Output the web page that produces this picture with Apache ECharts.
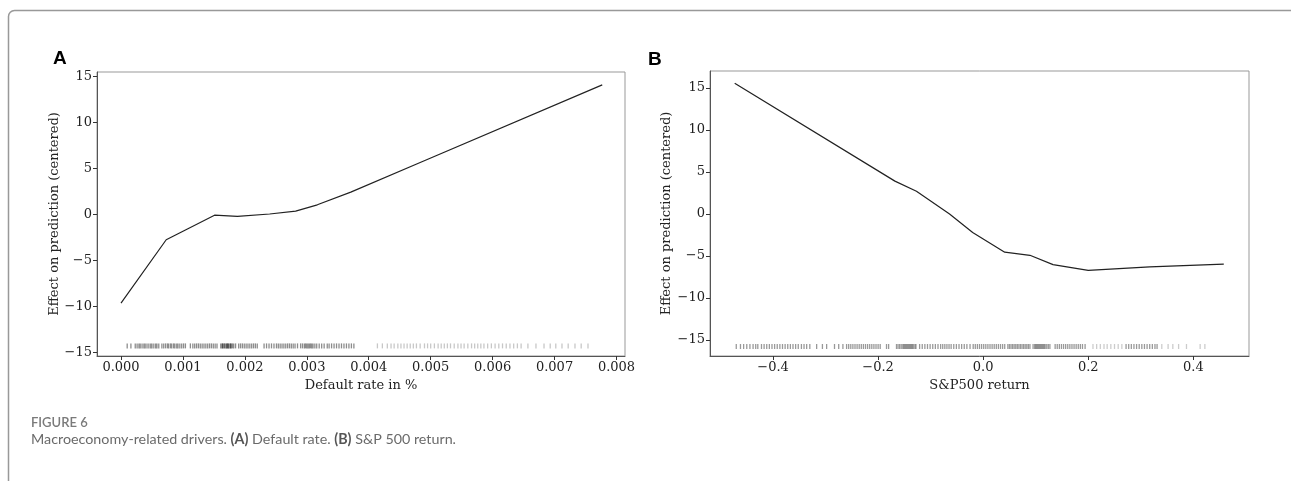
<!DOCTYPE html>
<html>
<head>
<meta charset="utf-8">
<style>
html,body{margin:0;padding:0;background:#fff;}
#chart{width:1291px;height:481px;}
</style>
<script src="https://cdn.jsdelivr.net/npm/echarts@6/dist/echarts.min.js"></script>
</head>
<body>
<div id="chart"></div>
<script>
// ---- Panel A: Default rate ----
const xA = [0.0000, 0.00073, 0.00151, 0.00188, 0.00240, 0.00282, 0.00317, 0.00371, 0.00484, 0.00777];
const yA = [-9.65, -2.75, -0.08, -0.20, 0.05, 0.36, 1.05, 2.43, 5.68, 14.10];
const rugA = [0.00010,0.00016,
 0.00023,0.00026,0.00029,0.00031,0.00034,0.00037,0.00039,0.00042,0.00045,0.00048,0.00050,0.00053,0.00056,0.00058,0.00061,
 0.00066,0.00069,0.00072,0.00075,0.00077,0.00080,0.00082,0.00085,0.00087,0.00090,0.00092,0.00095,0.00098,0.00101,0.00104,
 0.00112,0.00116,0.00119,0.00122,0.00125,0.00128,0.00131,0.00134,0.00137,0.00140,0.00143,0.00146,0.00149,0.00152,0.00155,
 0.00161,0.00163,0.00164,0.00165,0.00167,0.00168,0.00170,0.00171,0.00172,0.00173,0.00174,0.00176,0.00177,0.00178,0.00180,0.00182,0.00185,
 0.00190,0.00193,0.00196,0.00199,0.00202,0.00205,0.00208,0.00211,0.00214,0.00217,0.00220,
 0.00231,0.00235,0.00239,0.00243,0.00247,0.00251,0.00254,0.00257,0.00260,0.00263,0.00266,0.00269,0.00272,0.00275,0.00278,0.00281,0.00285,
 0.00290,0.00293,0.00296,0.00298,0.00300,0.00302,0.00304,0.00306,0.00308,0.00310,0.00313,0.00316,0.00320,0.00324,0.00328,0.00333,
 0.00336,0.00340,0.00344,0.00348,0.00352,0.00356,0.00360,0.00364,0.00368,0.00372,0.00376];
const rugAsparse = [0.00414,0.00422,0.00430,0.00436,0.00441,0.00447,0.00452,0.00457,0.00462,0.00467,0.00472,0.00477,0.00483,0.00490,0.00495,0.00500,0.00506,0.00512,0.00517,0.00522,0.00527,0.00532,0.00538,0.00544,0.00549,0.00554,0.00560,0.00566,0.00571,0.00576,0.00581,0.00586,0.00592,0.00598,0.00604,0.00610,0.00616,0.00622,0.00628,0.00634,0.00640,0.00646,
 0.00657,0.00670,0.00683,0.00693,0.00702,0.00712,0.00722,0.00733,0.00743,0.00754];
const rugYA = -14.3;
const ticksXA = [0, 0.001, 0.002, 0.003, 0.004, 0.005, 0.006, 0.007, 0.008];
const ticksYA = [-15, -10, -5, 0, 5, 10, 15];

// ---- Panel B: S&P500 return ----
const xB = [-0.473, -0.168, -0.127, -0.064, -0.020, 0.041, 0.089, 0.133, 0.200, 0.317, 0.458];
const yB = [15.54, 3.90, 2.70, 0.00, -2.20, -4.55, -4.92, -6.03, -6.71, -6.30, -5.96];
const rugB = [-0.470,-0.462,-0.456,-0.450,-0.444,-0.438,-0.433,-0.429,
 -0.422,-0.417,-0.412,-0.407,-0.402,-0.397,-0.392,-0.387,-0.382,-0.377,-0.372,-0.367,-0.362,-0.357,-0.352,-0.346,-0.341,-0.336,-0.330,
 -0.317,-0.306,-0.298,-0.283,-0.275,-0.267,
 -0.260,-0.256,-0.252,-0.248,-0.244,-0.240,-0.236,-0.232,-0.228,-0.224,-0.220,-0.216,-0.212,-0.208,-0.204,-0.200,-0.196,
 -0.184,-0.180,
 -0.165,-0.162,-0.159,-0.156,-0.153,-0.151,-0.149,-0.147,-0.145,-0.143,-0.141,-0.139,-0.137,-0.135,-0.133,-0.130,-0.128,
 -0.121,-0.116,-0.111,-0.106,-0.101,-0.096,-0.091,-0.086,-0.081,-0.077,-0.073,-0.069,-0.065,-0.061,-0.056,-0.051,-0.046,-0.041,-0.036,-0.031,-0.025,
 -0.019,-0.015,-0.011,-0.007,-0.003,0.001,0.005,0.009,0.013,0.017,0.021,0.025,0.029,0.033,0.037,0.041,
 0.047,0.050,0.053,0.056,0.059,0.062,0.065,0.068,0.071,0.074,0.077,0.080,0.083,0.086,0.089,
 0.095,0.098,0.100,0.102,0.104,0.106,0.108,0.110,0.112,0.114,0.116,0.118,0.121,0.124,0.127,
 0.137,0.141,0.145,0.149,0.153,0.157,0.161,0.165,0.169,0.173,0.177,0.181,0.185,0.189,0.194,
 0.272,0.277,0.282,0.287,0.292,0.297,0.302,0.307,0.312,0.317,0.322,0.327,0.331];
const rugBsparse = [0.209,0.216,0.223,0.230,0.236,0.243,0.250,0.257,0.264,0.340,0.352,0.361,0.372,0.387,0.413,0.422];
const rugYB = -15.77;
const ticksXB = [-0.4, -0.2, 0.0, 0.2, 0.4];
const ticksYB = [-15, -10, -5, 0, 5, 10, 15];

const SERIF = 'DejaVu Serif';
const minus = v => (v < 0 ? '\u2212' + Math.abs(v) : String(v));
const pair = (xs, ys) => xs.map((x, i) => [x, ys[i]]);
const rug = (xs, y) => xs.map(x => [x, y]);

function xAxisCfg(idx, min, max, ticks, fmt, name) {
  return {
    type: 'value', gridIndex: idx, min: min, max: max,
    name: name, nameLocation: 'middle', nameGap: 17,
    nameTextStyle: {fontFamily: SERIF, fontSize: 13, color: '#222'},
    axisLine: {show: true, onZero: false, lineStyle: {color: '#555', width: 1}},
    axisTick: {show: true, length: 4, lineStyle: {color: '#333'}, customValues: ticks},
    axisLabel: {show: true, customValues: ticks, formatter: fmt, margin: 5,
      fontFamily: SERIF, fontSize: 13, color: '#222'},
    splitLine: {show: false}
  };
}
function yAxisCfg(idx, min, max, ticks, gap) {
  return {
    type: 'value', gridIndex: idx, min: min, max: max,
    name: 'Effect on prediction (centered)', nameLocation: 'middle', nameGap: gap, nameRotate: 90,
    nameTextStyle: {fontFamily: SERIF, fontSize: 13, color: '#222'},
    axisLine: {show: true, onZero: false, lineStyle: {color: '#555', width: 1}},
    axisTick: {show: true, length: 4, lineStyle: {color: '#333'}, customValues: ticks},
    axisLabel: {show: true, customValues: ticks, formatter: v => minus(v), margin: 5,
      fontFamily: SERIF, fontSize: 13, color: '#222'},
    splitLine: {show: false}
  };
}

const chart = echarts.init(document.getElementById('chart'), null, {renderer: 'canvas'});
chart.setOption({
  backgroundColor: '#fff',
  animation: false,
  grid: [
    {left: 97, top: 72, width: 528, height: 284, show: true, borderColor: '#999', borderWidth: 1, backgroundColor: 'transparent'},
    {left: 710, top: 71, width: 539, height: 285, show: true, borderColor: '#999', borderWidth: 1, backgroundColor: 'transparent'}
  ],
  xAxis: [
    xAxisCfg(0, -0.0003875, 0.0081375, ticksXA, v => v.toFixed(3), 'Default rate in %'),
    xAxisCfg(1, -0.52, 0.506, ticksXB, v => (v < 0 ? '\u2212' + Math.abs(v).toFixed(1) : v.toFixed(1)), 'S&P500 return')
  ],
  yAxis: [
    yAxisCfg(0, -15.4, 15.5, ticksYA, 36),
    yAxisCfg(1, -16.9, 17.0, ticksYB, 37)
  ],
  series: [
    {type: 'line', xAxisIndex: 0, yAxisIndex: 0, data: pair(xA, yA), showSymbol: false, symbol: 'none',
      lineStyle: {color: '#222', width: 1.2}, silent: true},
    {type: 'scatter', xAxisIndex: 0, yAxisIndex: 0, data: rug(rugA, rugYA), symbol: 'rect', symbolSize: [1.3, 5],
      itemStyle: {color: '#000', opacity: 0.45}, silent: true},
    {type: 'scatter', xAxisIndex: 0, yAxisIndex: 0, data: rug(rugAsparse, rugYA), symbol: 'rect', symbolSize: [1.3, 5],
      itemStyle: {color: '#000', opacity: 0.22}, silent: true},
    {type: 'line', xAxisIndex: 1, yAxisIndex: 1, data: pair(xB, yB), showSymbol: false, symbol: 'none',
      lineStyle: {color: '#222', width: 1.2}, silent: true},
    {type: 'scatter', xAxisIndex: 1, yAxisIndex: 1, data: rug(rugB, rugYB), symbol: 'rect', symbolSize: [1.3, 5],
      itemStyle: {color: '#000', opacity: 0.4}, silent: true},
    {type: 'scatter', xAxisIndex: 1, yAxisIndex: 1, data: rug(rugBsparse, rugYB), symbol: 'rect', symbolSize: [1.3, 5],
      itemStyle: {color: '#000', opacity: 0.2}, silent: true}
  ],
  graphic: [
    {type: 'rect', shape: {x: 8.5, y: 10.5, width: 1400, height: 600, r: 6},
      style: {fill: 'none', stroke: '#999', lineWidth: 1.5}, silent: true, z: -10},
    {type: 'text', left: 53, top: 49, style: {text: 'A', font: 'bold 19px "Liberation Sans", Arial, sans-serif', fill: '#000'}},
    {type: 'text', left: 648, top: 50, style: {text: 'B', font: 'bold 19px "Liberation Sans", Arial, sans-serif', fill: '#000'}},
    {type: 'text', left: 31, top: 416, style: {text: 'FIGURE 6', font: '600 13px Lato, "Open Sans", sans-serif', fill: '#7a7a7a'}},
    {type: 'text', left: 31, top: 432, style: {
      text: 'Macroeconomy-related drivers. {b|(A)} Default rate. {b|(B)} S&P 500 return.',
      font: '14.3px Lato, "Open Sans", sans-serif', fill: '#6a6a6a',
      rich: {b: {font: 'bold 14.3px Lato, "Open Sans", sans-serif', fill: '#555'}}
    }}
  ]
});
</script>
</body>
</html>
